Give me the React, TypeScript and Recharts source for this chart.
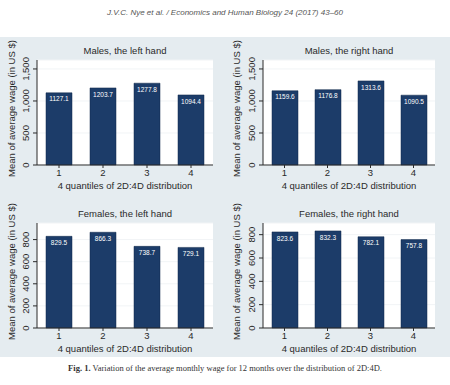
import { BarChart, Bar, XAxis, YAxis, CartesianGrid, LabelList } from "recharts";

const quantiles = ["1", "2", "3", "4"];
const malesLeft = [1127.1, 1203.7, 1277.8, 1094.4];
const malesRight = [1159.6, 1176.8, 1313.6, 1090.5];
const femalesLeft = [829.5, 866.3, 738.7, 729.1];
const femalesRight = [823.6, 832.3, 782.1, 757.8];
const maleTicks = [0, 500, 1000, 1500];
const femaleTicks = [0, 200, 400, 600, 800];

const FONT = "'Liberation Sans', Arial, sans-serif";
const BAR = "#1c3c69";
const INK = "#2a2a2a";

const toRows = (values: number[]) => quantiles.map((q, i) => ({ q, wage: values[i] }));

const YTick = (props: any) => {
  const { x, y, payload } = props;
  return (
    <text
      x={x - 2}
      y={y}
      transform={`rotate(-90, ${x - 2}, ${y})`}
      textAnchor="middle"
      fontSize={9.5}
      fontFamily={FONT}
      fill={INK}
    >
      {payload.value.toLocaleString("en-US")}
    </text>
  );
};

const YTitle = (props: any) => {
  const { viewBox } = props;
  const cx = viewBox.x + 15;
  const cy = viewBox.y + viewBox.height / 2 - 4;
  return (
    <text
      x={cx}
      y={cy}
      transform={`rotate(-90, ${cx}, ${cy})`}
      textAnchor="middle"
      fontSize={9.5}
      fontFamily={FONT}
      fill={INK}
    >
      Mean of average wage (in US $)
    </text>
  );
};

const XTitle = (props: any) => {
  const { viewBox } = props;
  return (
    <text
      x={viewBox.x + viewBox.width / 2}
      y={viewBox.y + 24}
      textAnchor="middle"
      fontSize={9.5}
      fontFamily={FONT}
      fill={INK}
    >
      4 quantiles of 2D:4D distribution
    </text>
  );
};

interface PanelProps {
  title: string;
  values: number[];
  ticks: number[];
  max: number;
  left: number;
  top: number;
  yWidth: number;
  right: number;
}

function Panel({ title, values, ticks, max, left, top, yWidth, right }: PanelProps) {
  return (
    <div style={{ position: "absolute", left, top, width: 220, height: 155 }}>
      <div
        style={{
          position: "absolute",
          left: yWidth,
          width: 220 - yWidth - right,
          top: 5,
          textAlign: "center",
          fontFamily: FONT,
          fontSize: 9.5,
          color: INK,
        }}
      >
        {title}
      </div>
      <BarChart
        width={220}
        height={155}
        data={toRows(values)}
        margin={{ top: 20, right, left: 0, bottom: 0 }}
        barSize={26}
      >
        <CartesianGrid fill="#ffffff" vertical={false} stroke="#f1f4f6" />
        <XAxis
          dataKey="q"
          height={30}
          tickSize={3}
          tickMargin={1}
          stroke={INK}
          tick={{ fontSize: 9.5, fontFamily: FONT, fill: INK }}
          label={<XTitle />}
        />
        <YAxis
          width={yWidth}
          domain={[0, max]}
          ticks={ticks}
          interval={0}
          tickSize={4}
          stroke={INK}
          tick={<YTick />}
          label={<YTitle />}
        />
        <Bar dataKey="wage" fill={BAR} stroke="#0f2748" strokeWidth={0.5} isAnimationActive={false}>
          <LabelList
            dataKey="wage"
            position="insideTop"
            offset={4}
            fill="#ffffff"
            fontSize={6.5}
            fontFamily={FONT}
            formatter={(v: any) => Number(v).toFixed(1)}
          />
        </Bar>
      </BarChart>
    </div>
  );
}

export default function App() {
  return (
    <div
      style={{
        position: "absolute",
        left: 0,
        top: 0,
        width: 450,
        height: 385,
        background: "#ffffff",
        overflow: "hidden",
      }}
    >
      <div
        style={{
          position: "absolute",
          top: 8,
          width: 450,
          textAlign: "center",
          fontFamily: FONT,
          fontStyle: "italic",
          fontSize: 8,
          color: "#555",
        }}
      >
        J.V.C. Nye et al. / Economics and Human Biology 24 (2017) 43–60
      </div>
      <div
        style={{
          position: "absolute",
          left: 0,
          top: 37,
          width: 450,
          height: 320,
          background: "#e5ecf0",
        }}
      />
      <Panel title="Males, the left hand" values={malesLeft} ticks={maleTicks} max={1640} left={0} top={40} yWidth={37} right={7} />
      <Panel title="Males, the right hand" values={malesRight} ticks={maleTicks} max={1640} left={225} top={40} yWidth={38} right={10} />
      <Panel title="Females, the left hand" values={femalesLeft} ticks={femaleTicks} max={950} left={0} top={203} yWidth={37} right={7} />
      <Panel title="Females, the right hand" values={femalesRight} ticks={femaleTicks} max={900} left={225} top={203} yWidth={38} right={10} />
      <div
        style={{
          position: "absolute",
          top: 363,
          width: 450,
          textAlign: "center",
          fontFamily: "'Liberation Serif', 'Times New Roman', serif",
          fontSize: 8.5,
          color: "#333",
        }}
      >
        <b>Fig. 1.</b> Variation of the average monthly wage for 12 months over the distribution of 2D:4D.
      </div>
    </div>
  );
}
